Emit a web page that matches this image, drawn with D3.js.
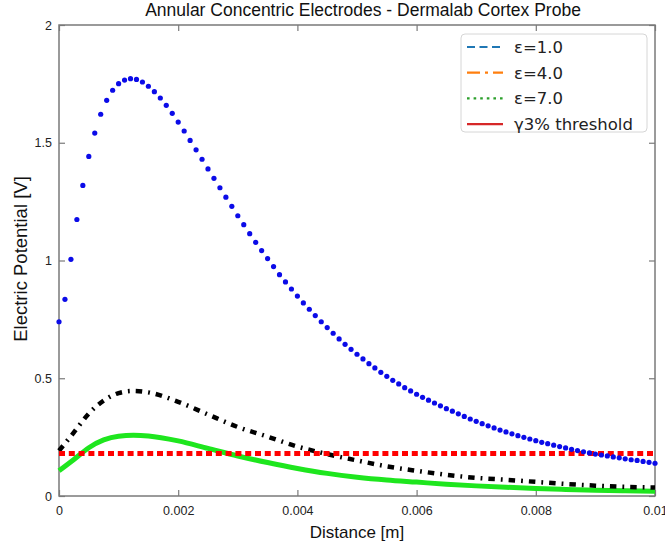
<!DOCTYPE html>
<html>
<head>
<meta charset="utf-8">
<script src="https://cdn.jsdelivr.net/npm/d3@7"></script>
<style>
  body { margin: 0; background: #fff; }
  svg { display: block; }
</style>
</head>
<body>
<div id="chart"></div>
<script>
// epsilon = 1.0 : sampled every 0.0001 m (shown as dot markers)
var blueStep = 0.0001;
var eps1 = [
  0.740, 0.835, 1.005, 1.174, 1.319, 1.442, 1.541, 1.621, 1.680, 1.723,
  1.751, 1.766, 1.772, 1.769, 1.758, 1.740, 1.717, 1.690, 1.659, 1.625,
  1.588, 1.550, 1.510, 1.470, 1.430, 1.389, 1.349, 1.309, 1.269, 1.230,
  1.190, 1.152, 1.114, 1.077, 1.042, 1.008, 0.974, 0.940, 0.909, 0.879,
  0.849, 0.820, 0.793, 0.766, 0.740, 0.715, 0.691, 0.667, 0.644, 0.623,
  0.602, 0.582, 0.562, 0.544, 0.525, 0.508, 0.491, 0.476, 0.460, 0.446,
  0.432, 0.419, 0.407, 0.395, 0.383, 0.371, 0.360, 0.349, 0.338, 0.327,
  0.317, 0.307, 0.298, 0.289, 0.280, 0.272, 0.264, 0.256, 0.249, 0.242,
  0.235, 0.228, 0.222, 0.216, 0.210, 0.204, 0.198, 0.193, 0.188, 0.183,
  0.178, 0.174, 0.170, 0.166, 0.162, 0.158, 0.154, 0.151, 0.147, 0.143,
  0.139
];

// epsilon = 4.0 (black dash-dot) and 7.0 (green)
var distances = [0, 0.00025, 0.0005, 0.00075, 0.001, 0.00125, 0.0015, 0.002, 0.0025,
  0.003, 0.0035, 0.004, 0.0045, 0.005, 0.0055, 0.006, 0.0065, 0.007, 0.0075,
  0.008, 0.0085, 0.009, 0.0095, 0.01];
var eps4 = [0.192, 0.270, 0.350, 0.405, 0.437, 0.446, 0.440, 0.400, 0.346,
  0.293, 0.252, 0.210, 0.178, 0.151, 0.126, 0.107, 0.090, 0.077, 0.069,
  0.060, 0.051, 0.044, 0.039, 0.036];
var eps7 = [0.107, 0.155, 0.205, 0.238, 0.254, 0.258, 0.255, 0.234, 0.202,
  0.170, 0.142, 0.117, 0.096, 0.080, 0.068, 0.059, 0.050, 0.043, 0.037,
  0.032, 0.028, 0.024, 0.022, 0.020];

var threshold = 0.181;

var xTicks = [0, 0.002, 0.004, 0.006, 0.008, 0.01];
var xTickLabels = ["0", "0.002", "0.004", "0.006", "0.008", "0.01"];
var yTicks = [0, 0.5, 1, 1.5, 2];
var yTickLabels = ["0", "0.5", "1", "1.5", "2"];

var legendLabels = ["\u03b5=1.0", "\u03b5=4.0", "\u03b5=7.0", "\u03b33% threshold"];

var width = 665;
var height = 548;
var margin = {top: 25, right: 10, bottom: 52, left: 59};
var plotW = width - margin.left - margin.right;
var plotH = height - margin.top - margin.bottom;

var x = d3.scaleLinear().domain([0, 0.01]).range([0, plotW]);
var y = d3.scaleLinear().domain([0, 2]).range([plotH, 0]);

var svg = d3.select('#chart')
  .append('svg')
  .attr('width', width)
  .attr('height', height);

var g = svg.append('g')
  .attr('transform', 'translate(' + margin.left + ',' + margin.top + ')');

var axisColor = '#7a7a7a';
var font = '"Liberation Sans", Arial, sans-serif';

// axes, ticks pointing inward on all four sides
function styleAxis(sel) {
  sel.select('.domain').remove();
  sel.selectAll('.tick line').attr('stroke', axisColor).attr('stroke-width', 1.2);
  sel.selectAll('.tick text')
    .attr('fill', '#222')
    .style('font-family', font)
    .style('font-size', '12.5px');
}

g.append('g')
  .attr('transform', 'translate(0,' + plotH + ')')
  .call(d3.axisBottom(x).tickValues(xTicks)
    .tickFormat(function (d, i) { return xTickLabels[i]; })
    .tickSizeInner(-6).tickSizeOuter(0).tickPadding(10))
  .call(styleAxis);

g.append('g')
  .call(d3.axisTop(x).tickValues(xTicks).tickFormat('')
    .tickSizeInner(-6).tickSizeOuter(0))
  .call(styleAxis);

g.append('g')
  .call(d3.axisLeft(y).tickValues(yTicks)
    .tickFormat(function (d, i) { return yTickLabels[i]; })
    .tickSizeInner(-6).tickSizeOuter(0).tickPadding(7))
  .call(styleAxis);

g.append('g')
  .attr('transform', 'translate(' + plotW + ',0)')
  .call(d3.axisRight(y).tickValues(yTicks).tickFormat('')
    .tickSizeInner(-6).tickSizeOuter(0))
  .call(styleAxis);

g.append('rect')
  .attr('width', plotW)
  .attr('height', plotH)
  .attr('fill', 'none')
  .attr('stroke', axisColor)
  .attr('stroke-width', 1.5);

// curves
var line = d3.line()
  .x(function (d) { return x(d[0]); })
  .y(function (d) { return y(d[1]); })
  .curve(d3.curveMonotoneX);

g.append('path')
  .datum(distances.map(function (d, i) { return [d, eps7[i]]; }))
  .attr('d', line)
  .attr('fill', 'none')
  .attr('stroke', '#1ee61e')
  .attr('stroke-width', 5);

g.append('path')
  .datum(distances.map(function (d, i) { return [d, eps4[i]]; }))
  .attr('d', line)
  .attr('fill', 'none')
  .attr('stroke', '#000')
  .attr('stroke-width', 4.5)
  .attr('stroke-dasharray', '6.5,6,1.8,6');

g.append('path')
  .datum([[0, threshold], [0.01, threshold]])
  .attr('d', line)
  .attr('fill', 'none')
  .attr('stroke', '#f00')
  .attr('stroke-width', 5)
  .attr('stroke-dasharray', '6,3.8');

g.selectAll('.dot')
  .data(eps1)
  .enter()
  .append('circle')
  .attr('class', 'dot')
  .attr('cx', function (d, i) { return x(i * blueStep); })
  .attr('cy', function (d) { return y(d); })
  .attr('r', 2.6)
  .attr('fill', '#0b0be8');

// title and axis labels
svg.append('text')
  .attr('x', 363)
  .attr('y', 16)
  .attr('text-anchor', 'middle')
  .style('font-family', font)
  .style('font-size', '17.5px')
  .attr('fill', '#111')
  .text('Annular Concentric Electrodes - Dermalab Cortex Probe');

svg.append('text')
  .attr('x', margin.left + plotW / 2)
  .attr('y', 538)
  .attr('text-anchor', 'middle')
  .style('font-family', font)
  .style('font-size', '17px')
  .attr('fill', '#111')
  .text('Distance [m]');

svg.append('text')
  .attr('transform', 'translate(27,259) rotate(-90)')
  .attr('text-anchor', 'middle')
  .style('font-family', font)
  .style('font-size', '18.5px')
  .attr('fill', '#111')
  .text('Electric Potential [V]');

// legend
var legendColors = ['#1f77b4', '#ff7f0e', '#2ca02c', '#d62728'];
var legendDash = ['8,4.5', '13,5,3,5', '2.6,4', null];

var legend = svg.append('g')
  .attr('transform', 'translate(461,34)');

legend.append('rect')
  .attr('width', 186)
  .attr('height', 98)
  .attr('rx', 4)
  .attr('fill', '#fff')
  .attr('fill-opacity', 0.9)
  .attr('stroke', '#d6d6d6');

var rows = legend.selectAll('.legend-row')
  .data(legendLabels)
  .enter()
  .append('g')
  .attr('class', 'legend-row')
  .attr('transform', function (d, i) { return 'translate(0,' + (13 + i * 25.7) + ')'; });

rows.append('line')
  .attr('x1', 6)
  .attr('x2', 42)
  .attr('stroke', function (d, i) { return legendColors[i]; })
  .attr('stroke-width', 2.2)
  .attr('stroke-dasharray', function (d, i) { return legendDash[i]; });

rows.append('text')
  .attr('x', 53)
  .attr('dy', '0.36em')
  .style('font-family', '"DejaVu Sans", sans-serif')
  .style('font-size', '16.5px')
  .attr('fill', '#222')
  .text(function (d) { return d; });
</script>
</body>
</html>
